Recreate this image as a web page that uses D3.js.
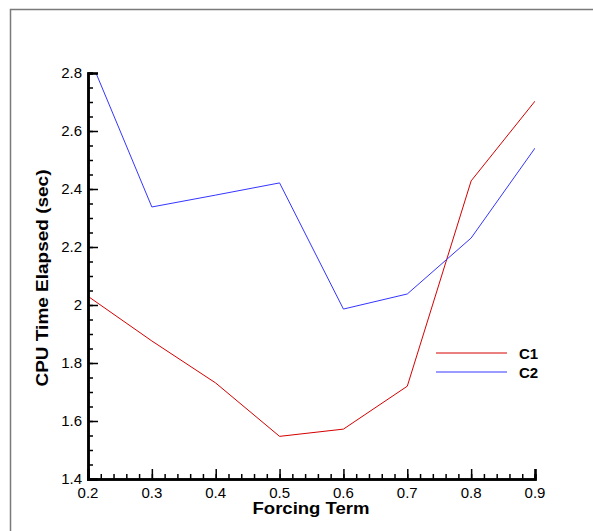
<!DOCTYPE html>
<html>
<head>
<meta charset="utf-8">
<script src="https://cdn.jsdelivr.net/npm/d3@7"></script>
<style>
  body { margin: 0; background: #fff; }
  svg { display: block; font-family: "Liberation Sans", Arial, sans-serif; }
</style>
</head>
<body>
<div id="container"></div>
<script>
// valores
const forcing = [0.2, 0.3, 0.4, 0.5, 0.6, 0.7, 0.8, 0.9]
const c1 = [2.03, 1.876, 1.731, 1.547, 1.572, 1.72, 2.428, 2.703]
const c2 = [2.866, 2.338, 2.379, 2.421, 1.986, 2.038, 2.231, 2.541]
const seriesNames = ["C1", "C2"]
const seriesColors = ["#d40000", "#3535ff"]
const xTicks = [0.2, 0.3, 0.4, 0.5, 0.6, 0.7, 0.8, 0.9]
const yTicks = [1.4, 1.6, 1.8, 2, 2.2, 2.4, 2.6, 2.8]

const width = 593
const height = 531

const x = d3.scaleLinear([0.2, 0.9], [88, 535])
const y = d3.scaleLinear([1.4, 2.8], [479, 73])

const svg = d3.select("#container")
  .append("svg")
  .attr("width", width)
  .attr("height", height)

// moldura cinza
svg.append("path")
  .attr("d", `M10.5,${height} V9.5 H${width}`)
  .attr("fill", "none")
  .attr("stroke", "#7a7a7a")
  .attr("stroke-width", 1.5)

svg.append("clipPath")
  .attr("id", "clip")
  .append("rect")
  .attr("x", x(0.2))
  .attr("y", y(2.8))
  .attr("width", x(0.9) - x(0.2))
  .attr("height", y(1.4) - y(2.8))

const line = d3.line()
  .x((d, i) => x(forcing[i]))
  .y(d => y(d))

const series = [c1, c2]
svg.append("g")
  .attr("clip-path", "url(#clip)")
  .selectAll("path")
  .data(series)
  .join("path")
  .attr("d", d => line(d))
  .attr("fill", "none")
  .attr("stroke", (d, i) => seriesColors[i])
  .attr("stroke-width", 1)

// eixos (ticks para dentro)
const xMinor = d3.range(0.2, 0.9001, 0.02).map(v => +v.toFixed(2))
const yMinor = d3.range(1.4, 2.8001, 0.05).map(v => +v.toFixed(2))

const xAxis = svg.append("g").attr("transform", `translate(0,${y(1.4)})`)
xAxis.call(d3.axisTop(x).tickValues(xMinor).tickSize(5).tickFormat(""))
xAxis.append("g").call(d3.axisTop(x).tickValues(xTicks).tickSize(10).tickFormat(""))
xAxis.selectAll("path.domain").attr("stroke-width", 2.5)
xAxis.selectAll("line").attr("stroke-width", 1.5)

const yAxis = svg.append("g").attr("transform", `translate(${x(0.2)},0)`)
yAxis.call(d3.axisRight(y).tickValues(yMinor).tickSize(5).tickFormat(""))
yAxis.append("g").call(d3.axisRight(y).tickValues(yTicks).tickSize(10).tickFormat(""))
yAxis.selectAll("path.domain").attr("stroke-width", 2.5)
yAxis.selectAll("line").attr("stroke-width", 1.5)

// rótulos dos ticks
svg.append("g")
  .selectAll("text")
  .data(xTicks)
  .join("text")
  .attr("x", d => x(d))
  .attr("y", 498)
  .attr("text-anchor", "middle")
  .attr("font-size", 15)
  .text(d => d)

svg.append("g")
  .selectAll("text")
  .data(yTicks)
  .join("text")
  .attr("x", 82)
  .attr("y", d => y(d) + 5)
  .attr("text-anchor", "end")
  .attr("font-size", 15)
  .text(d => d)

// títulos dos eixos (fonte esticada como no original)
svg.append("text")
  .attr("x", 311)
  .attr("y", 514)
  .attr("text-anchor", "middle")
  .attr("font-size", 16)
  .attr("font-weight", "bold")
  .attr("textLength", 117)
  .attr("lengthAdjust", "spacingAndGlyphs")
  .text("Forcing Term")

svg.append("text")
  .attr("transform", "translate(48,278) rotate(-90)")
  .attr("text-anchor", "middle")
  .attr("font-size", 16)
  .attr("font-weight", "bold")
  .attr("textLength", 217)
  .attr("lengthAdjust", "spacingAndGlyphs")
  .text("CPU Time Elapsed (sec)")

// legenda
const legend = svg.append("g")
  .selectAll("g")
  .data(seriesNames)
  .join("g")
  .attr("transform", (d, i) => `translate(436,${353 + i * 19})`)

legend.append("line")
  .attr("x1", 0).attr("x2", 71)
  .attr("stroke", (d, i) => seriesColors[i])
  .attr("stroke-width", 1)

legend.append("text")
  .attr("x", 83)
  .attr("y", 6)
  .attr("font-size", 15)
  .attr("font-weight", "bold")
  .text(d => d)
</script>
</body>
</html>
